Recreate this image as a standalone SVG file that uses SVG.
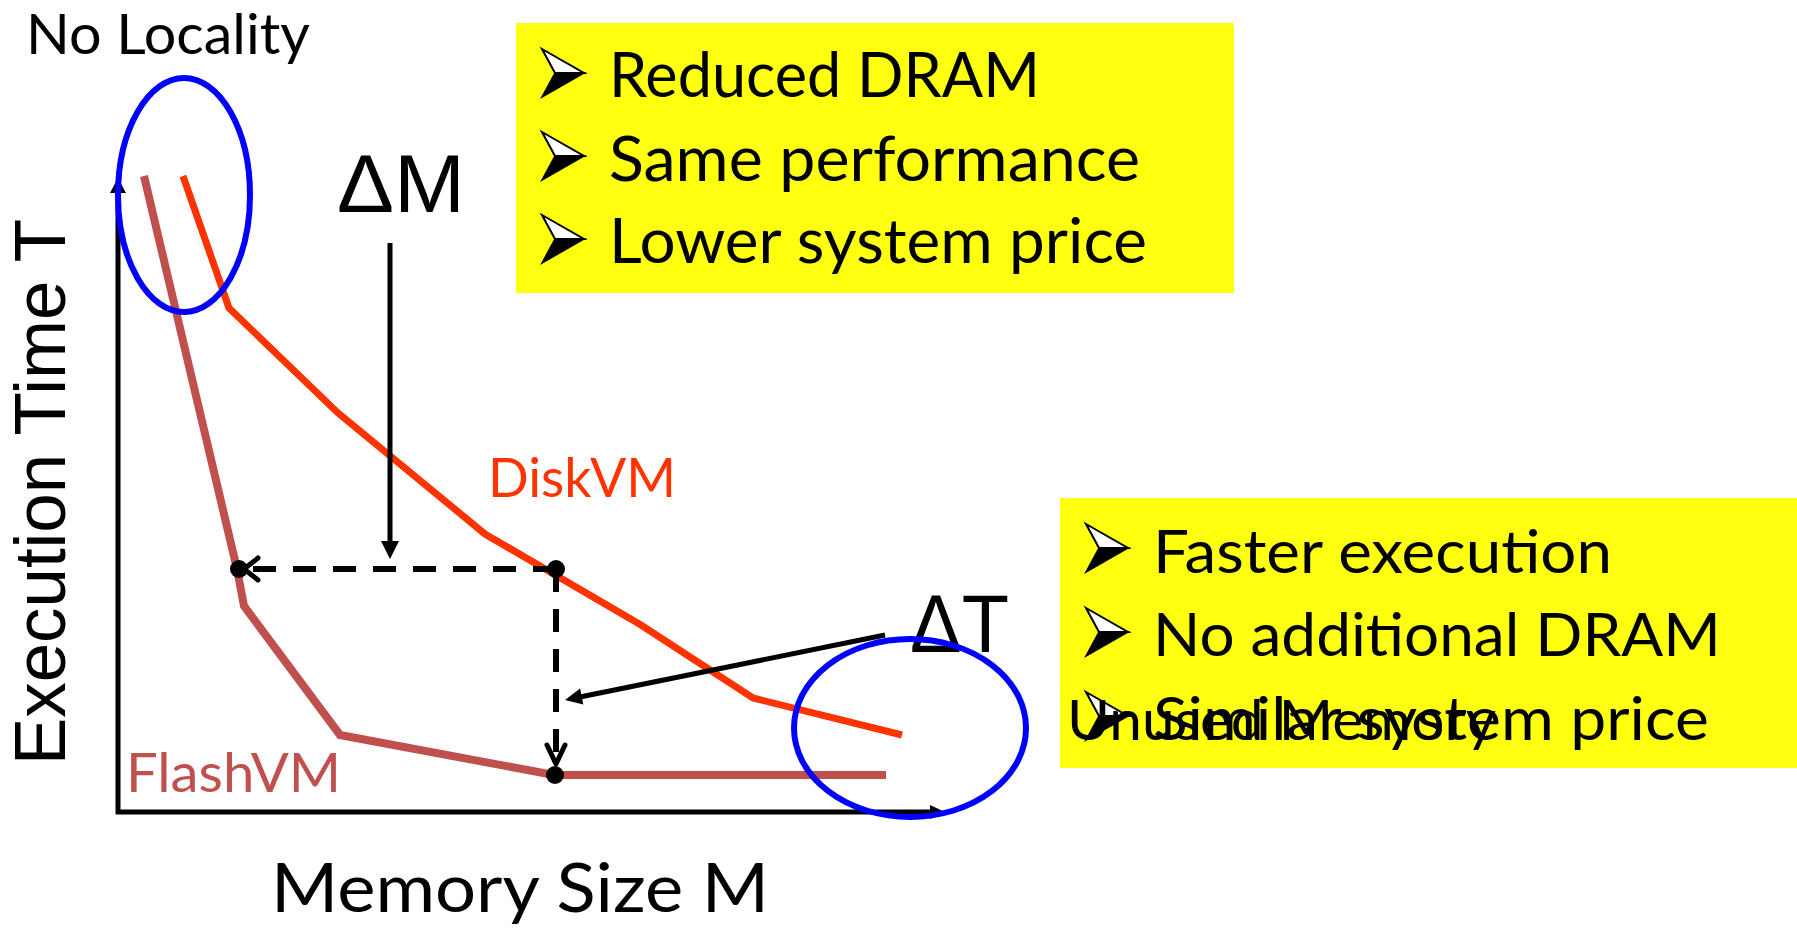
<svg xmlns="http://www.w3.org/2000/svg" xmlns:xlink="http://www.w3.org/1999/xlink" width="1797" height="928" viewBox="0 0 1797 928">
<style>
.t{font-family:Lato,"Open Sans","Liberation Sans",sans-serif;fill:#000}
.a{font-family:"Liberation Sans",Arial,sans-serif;fill:#000}
.box{fill:#FFFF10}
.curve{fill:none;stroke-linejoin:miter}
.ell{fill:none;stroke:#0000FF;stroke-width:6}
.ln{stroke:#000;stroke-width:5;fill:none}
.dash{stroke:#000;stroke-width:6;fill:none;stroke-dasharray:23 17}
.chev{stroke:#000;stroke-width:5;fill:none;stroke-linecap:round;stroke-linejoin:round}
</style>
<defs>
<g id="bullet">
<polygon points="0,-48 42,-24 13,-24" fill="#fff" stroke="#000" stroke-width="2" stroke-linejoin="miter"/>
<polygon points="13,-24 42,-24 0,0" fill="#000" stroke="#000" stroke-width="1.5"/>
</g>
</defs>
<rect width="1797" height="928" fill="#fff"/>

<g id="axes">
<line class="ln" x1="118" y1="814" x2="118" y2="190"/>
<polygon points="118,178 110,193 126,193" fill="#000"/>
<line class="ln" x1="116" y1="812" x2="932" y2="812"/>
<polygon points="945,812 930,805 930,819" fill="#000"/>
</g>

<g id="ylabel"><text class="a" font-size="72" transform="translate(65,765) rotate(-90)" textLength="546" lengthAdjust="spacingAndGlyphs">Execution Time T</text></g>
<g id="xlabel"><text class="t" font-size="68" x="271" y="912" textLength="498" lengthAdjust="spacingAndGlyphs">Memory Size M</text></g>
<g id="nolocality"><text class="t" font-size="56" x="26" y="54" textLength="284" lengthAdjust="spacingAndGlyphs">No Locality</text></g>

<g id="flashvm">
<polyline class="curve" stroke="#C0504D" stroke-width="8" points="144,176 237,569 244,606 340,735 554,775 886,775"/>
<text class="t" font-size="54" x="126" y="792" style="fill:#C0504D" textLength="215" lengthAdjust="spacingAndGlyphs">FlashVM</text>
</g>
<g id="diskvm">
<polyline class="curve" stroke="#FF3300" stroke-width="7" points="183,176 229,308 338,413 485,534 641,625 753,698 902,735"/>
<text class="t" font-size="54" x="488" y="497" style="fill:#FF3300" textLength="188" lengthAdjust="spacingAndGlyphs">DiskVM</text>
</g>

<g id="connectors">
<line class="dash" x1="556" y1="569" x2="248" y2="569"/>
<polyline class="chev" points="258,558 244,569 258,580"/>
<line class="dash" x1="556" y1="569" x2="556" y2="762"/>
<polyline class="chev" points="547,745 556,764 565,745"/>
<circle cx="239" cy="569" r="9" fill="#000"/>
<circle cx="556" cy="569" r="9" fill="#000"/>
<circle cx="555" cy="775" r="9" fill="#000"/>
<line class="ln" x1="390" y1="243" x2="390" y2="545"/>
<polygon points="390,559 381,541 399,541" fill="#000"/>
<line class="ln" x1="885" y1="635" x2="580" y2="697"/>
<polygon points="565,700 583.3,704.6 580.1,688.6" fill="#000"/>
</g>

<g id="deltaM"><text class="a" font-size="82" x="337" y="212" textLength="128" lengthAdjust="spacingAndGlyphs">ΔM</text></g>
<g id="deltaT"><text class="a" font-size="82" x="910" y="652" textLength="99" lengthAdjust="spacingAndGlyphs">ΔT</text></g>

<g id="box1">
<rect class="box" x="516" y="23" width="718" height="270"/>
<use xlink:href="#bullet" x="542" y="97"/>
<use xlink:href="#bullet" x="542" y="180"/>
<use xlink:href="#bullet" x="542" y="263"/>
<text class="t" font-size="61" x="609" y="97" textLength="431" lengthAdjust="spacingAndGlyphs">Reduced DRAM</text>
<text class="t" font-size="61" x="609" y="181" textLength="531" lengthAdjust="spacingAndGlyphs">Same performance</text>
<text class="t" font-size="61" x="609" y="263" textLength="538" lengthAdjust="spacingAndGlyphs">Lower system price</text>
</g>

<g id="box2">
<rect class="box" x="1060" y="498" width="737" height="270"/>
<use xlink:href="#bullet" x="1086" y="572"/>
<use xlink:href="#bullet" x="1086" y="656"/>
<use xlink:href="#bullet" x="1086" y="740"/>
<text class="t" font-size="60" x="1153" y="573" textLength="459" lengthAdjust="spacingAndGlyphs">Faster execution</text>
<text class="t" font-size="60" x="1153" y="656" textLength="568" lengthAdjust="spacingAndGlyphs">No additional DRAM</text>
<text class="t" font-size="60" x="1153" y="740" textLength="556" lengthAdjust="spacingAndGlyphs">Similar system price</text>
</g>
<g id="unused"><text class="t" font-size="56" x="1067" y="740" textLength="429" lengthAdjust="spacingAndGlyphs">Unused Memory</text></g>

<g id="circles">
<ellipse class="ell" cx="184" cy="195" rx="66" ry="117"/>
<ellipse class="ell" cx="910" cy="728" rx="116" ry="89"/>
</g>
</svg>
